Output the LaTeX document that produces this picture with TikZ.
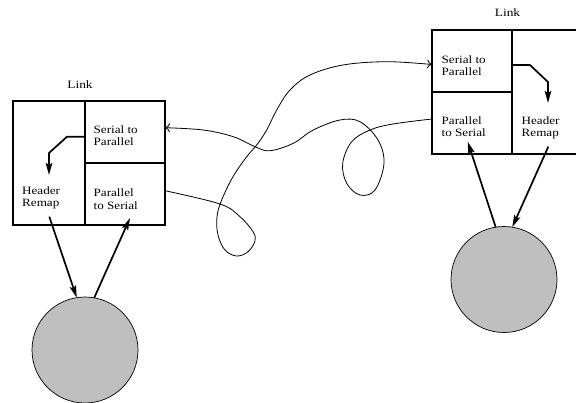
\documentclass[tikz,border=0pt]{standalone}
\usepackage{fontspec}
\setmainfont{Liberation Serif}
\usetikzlibrary{arrows.meta,calc}
\newcommand{\celltxt}[1]{\scalebox{1.17}[1]{\begin{tabular}[t]{@{}l@{}}#1\end{tabular}}}
\begin{document}
\begin{tikzpicture}[x=1pt,y=-1pt,
  cell/.style={draw,line width=2pt,rectangle,inner sep=0pt,outer sep=0pt},
  lbl/.style={anchor=base west,inner sep=0pt,font=\fontsize{11.2}{12.5}\selectfont},
  ttl/.style={anchor=base,inner sep=0pt,font=\fontsize{11.2}{12.5}\selectfont},
  inarrow/.style={line width=1.7pt,-{Stealth[length=12pt,width=6.5pt,inset=2pt]}},
  wire/.style={line width=0.8pt,-{To[length=5pt,width=9pt]}},
  disk/.style={circle,draw,line width=0.7pt,fill=black!25,minimum size=106pt,inner sep=0pt,outer sep=0pt}]
\useasboundingbox (0,0) rectangle (576,402);
\clip (0,0) rectangle (576,402);
% left link
\node[cell,minimum width=72pt,minimum height=124pt] (hrL) at (49,163) {};
\node[cell,minimum width=80pt,minimum height=62pt] (s2pL) at (125,132) {};
\node[cell,minimum width=80pt,minimum height=62pt] (p2sL) at (125,194) {};
\node[ttl] (linkL) at (80,88) {\scalebox{1.2}[1]{Link}};
\node[lbl] (tS2PL) at (93.5,133) {\celltxt{Serial to\\Parallel}};
\node[lbl] (tP2SL) at (93.5,196.7) {\celltxt{Parallel\\to Serial}};
\node[lbl] (tHRL) at (22,194.3) {\celltxt{Header\\Remap}};
% right link
\node[cell,minimum width=80pt,minimum height=62pt] (s2pR) at (472,61) {};
\node[cell,minimum width=80pt,minimum height=62pt] (p2sR) at (472,123) {};
\node[cell,minimum width=80pt,minimum height=124pt] (hrR) at (552,92) {};
\node[ttl] (linkR) at (507.5,16.7) {\scalebox{1.2}[1]{Link}};
\node[lbl] (tS2PR) at (441.5,63.3) {\celltxt{Serial to\\Parallel}};
\node[lbl] (tP2SR) at (441.5,124) {\celltxt{Parallel\\to Serial}};
\node[lbl] (tHRR) at (521.5,124) {\celltxt{Header\\Remap}};
% disks
\node[disk] (cL) at (85,350) {};
\node[disk] (cR) at (504,279.5) {};
% inner arrows
\draw[inarrow] ($(s2pL.west)+(0,4.7)$) -- ++(-18,0) -- ++(-18,16.3) -- ++(0,22);
\draw[inarrow] ($(s2pR.east)+(0,4)$) -- ++(18,0) -- ++(18,17) -- ++(0,21);
% disk arrows
\coordinate (a1s) at (49.3,216.7);
\coordinate (a2e) at (130,218);
\coordinate (a3e) at (467.7,141.7);
\coordinate (a4s) at (548.3,146.7);
\draw[inarrow] (a1s) -- (cL.99);
\draw[inarrow] (cL.80) -- (a2e);
\draw[inarrow] (cR.99.5) -- (a3e);
\draw[inarrow] (a4s) -- (cR.81.5);
% wires
\coordinate (wAs) at ($(p2sL.east)+(0,-3.3)$);
\coordinate (wAe) at ($(s2pR.west)+(0,3.5)$);
\coordinate (wBs) at ($(p2sR.west)+(0,-4)$);
\coordinate (wBe) at ($(s2pL.west)+(80,-4.3)$);
\draw[wire] plot[smooth,tension=0.6] coordinates {(wAs) (220,204) (240,216.7) (253,231.7) (255,241) (248,251.7) (236.7,256) (225,250) (218,235) (217,216.7) (221.7,200) (233,176.7) (246.7,156.7) (256.7,145) (266.7,130) (276.7,110) (290,90) (310,75) (343,65) (386.7,61.7) (wAe)};
\draw[wire] plot[smooth,tension=0.6] coordinates {(wBs) (393,124) (370,130) (351.7,141.7) (342.7,163.3) (346.7,183.3) (360,195) (375,190) (384,163.3) (378,140) (360,121.7) (340,120) (313.3,130) (293.3,143.3) (270,150.7) (255,146.7) (233.3,136.7) (203.3,130) (wBe)};
\end{tikzpicture}
\end{document}
